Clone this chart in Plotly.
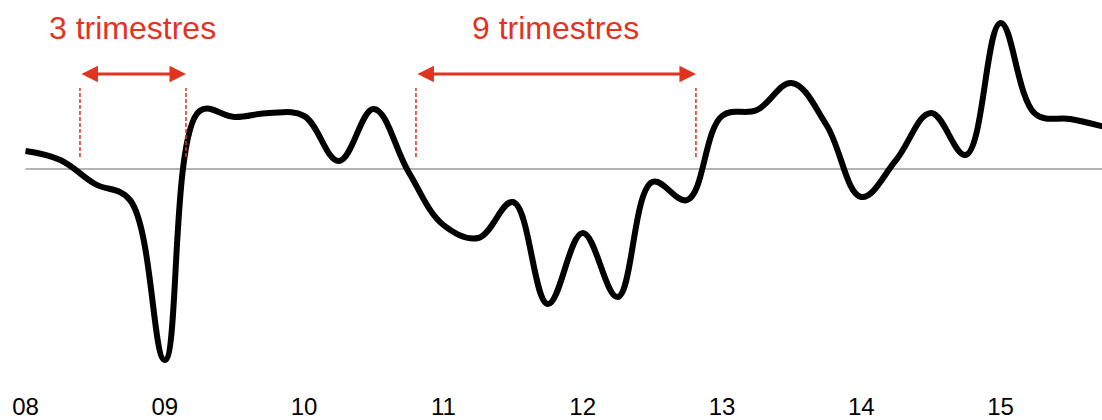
import plotly.graph_objects as go

# Quarterly series, 2008Q1 .. 2015Q4
quarters = [2008 + 0.25 * k for k in range(32)]
values = [
    0.18, 0.09, -0.15, -0.31,
    -1.91, 0.58, 0.52, 0.56,
    0.53, 0.08, 0.60, -0.03,
    -0.56, -0.69, -0.33, -1.35,
    -0.64, -1.28, -0.13, -0.31,
    0.53, 0.59, 0.86, 0.44,
    -0.28, 0.09, 0.56, 0.14,
    1.46, 0.55, 0.50, 0.42,
]

tick_years = [2008, 2009, 2010, 2011, 2012, 2013, 2014, 2015]
tick_labels = ["08", "09", "10", "11", "12", "13", "14", "15"]

# Highlighted spans: (start, end, label)
spans = [
    (2008.391, 2009.152, "3 trimestres"),
    (2010.803, 2012.813, "9 trimestres"),
]

RED = "#E2331F"
W, H = 1102, 420
X0, X1 = 2007.817, 2015.728
Y0, Y1 = -2.21, 1.69

fig = go.Figure()
fig.add_trace(go.Scatter(
    x=quarters, y=values, mode="lines",
    line=dict(color="black", width=6, shape="spline", smoothing=1.1),
    hoverinfo="skip", showlegend=False,
))

# zero baseline
fig.add_shape(type="line", x0=quarters[0], x1=X1, y0=0, y1=0,
              line=dict(color="#9a9a9a", width=1.5), layer="below")

arrow_y = 0.95
text_y = 1.41
for start, end, label in spans:
    for xv in (start, end):
        fig.add_shape(type="line", x0=xv, x1=xv, y0=0.12, y1=0.81,
                      line=dict(color=RED, width=1.5, dash="4px,2px"))
    fig.add_annotation(x=end, y=arrow_y, ax=start, ay=arrow_y,
                       xref="x", yref="y", axref="x", ayref="y",
                       text="", showarrow=True, arrowside="end+start",
                       arrowhead=2, arrowsize=1.1, arrowwidth=3,
                       arrowcolor=RED, standoff=0, startstandoff=0)
    fig.add_annotation(x=(start + end) / 2, y=text_y, xref="x", yref="y",
                       text=label, showarrow=False,
                       font=dict(family="Liberation Sans, Arial", size=32, color=RED))

fig.update_layout(
    width=W, height=H,
    margin=dict(l=0, r=0, t=0, b=30),
    paper_bgcolor="white", plot_bgcolor="white",
    xaxis=dict(range=[X0, X1], tickmode="array", tickvals=tick_years,
               ticktext=tick_labels, showgrid=False, zeroline=False,
               showline=False, ticks="", automargin=False,
               tickfont=dict(family="Liberation Sans, Arial", size=24, color="black")),
    yaxis=dict(range=[Y0, Y1], visible=False, showgrid=False, zeroline=False),
)

fig.write_html("out.html")
